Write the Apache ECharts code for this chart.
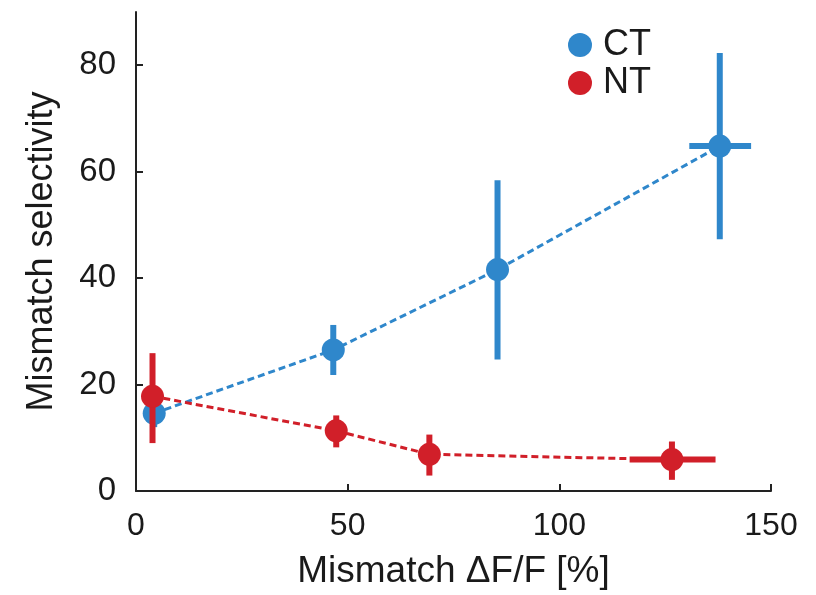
<!DOCTYPE html>
<html>
<head>
<meta charset="utf-8">
<script src="https://cdn.jsdelivr.net/npm/echarts@6/dist/echarts.min.js"></script>
<style>
  html, body { margin: 0; padding: 0; background: #fff; }
  #chart-container { width: 816px; height: 595px; }
</style>
</head>
<body>
<div id="chart-container"></div>
<script>
// CT: mean and error bounds
const ctX = [4.3, 46.6, 85.4, 137.9];
const ctY = [14.6, 26.5, 41.6, 64.8];
const ctYLow = [12.0, 21.8, 24.7, 47.3];
const ctYHigh = [17.0, 31.2, 58.4, 82.3];
const ctXLow = [4.3, 46.6, 84.6, 130.7];
const ctXHigh = [4.3, 46.6, 86.2, 145.3];

// NT: mean and error bounds
const ntX = [3.9, 47.3, 69.3, 126.6];
const ntY = [17.8, 11.3, 6.9, 5.9];
const ntYLow = [9.0, 8.2, 2.9, 2.1];
const ntYHigh = [25.9, 14.2, 10.6, 9.3];
const ntXLow = [3.9, 47.3, 69.3, 116.6];
const ntXHigh = [3.9, 47.3, 69.3, 136.9];

const yTicks = [0, 20, 40, 60, 80];
const xTicks = [0, 50, 100, 150];

const blue = '#2f87cb';
const red = '#d11f29';
const font = '"Liberation Sans", Arial, sans-serif';

function points(xs, ys) {
    return xs.map((x, i) => [x, ys[i]]);
}

function errRows(xs, ys, yl, yh, xl, xh) {
    return xs.map((x, i) => [x, ys[i], yl[i], yh[i], xl[i], xh[i]]);
}

function errorSeries(rows, color, z) {
    return {
        type: 'custom',
        silent: true,
        data: rows,
        encode: { x: 0, y: 1 },
        z: z,
        renderItem: function (params, api) {
            const x = api.value(0), y = api.value(1);
            const top = api.coord([x, api.value(3)]);
            const bot = api.coord([x, api.value(2)]);
            const left = api.coord([api.value(4), y]);
            const right = api.coord([api.value(5), y]);
            const style = { stroke: color, lineWidth: 6, lineCap: 'butt' };
            const children = [{
                type: 'line',
                shape: { x1: top[0], y1: top[1], x2: bot[0], y2: bot[1] },
                style: style
            }];
            if (right[0] - left[0] > 0.5) {
                children.push({
                    type: 'line',
                    shape: { x1: left[0], y1: left[1], x2: right[0], y2: right[1] },
                    style: style
                });
            }
            return { type: 'group', children: children };
        }
    };
}

function lineSeries(name, data, color, z) {
    return {
        name: name,
        type: 'line',
        data: data,
        symbol: 'circle',
        symbolSize: 23,
        z: z,
        itemStyle: { color: color },
        lineStyle: { color: color, width: 3, type: [7, 4] }
    };
}

const option = {
    animation: false,
    grid: { left: 136, right: 45, top: 12, bottom: 104 },
    legend: {
        data: ['CT', 'NT'],
        orient: 'vertical',
        left: 563,
        top: 22,
        icon: 'circle',
        itemWidth: 24,
        itemHeight: 24,
        itemGap: 2,
        textStyle: { fontSize: 36, fontFamily: font, color: '#1a1a1a', lineHeight: 36, padding: [0, 0, 0, 6] }
    },
    xAxis: {
        type: 'value',
        min: 0,
        max: 150,
        interval: 50,
        name: 'Mismatch \u0394F/F [%]',
        nameLocation: 'middle',
        nameGap: 62,
        nameTextStyle: { fontSize: 37, fontFamily: font, color: '#1a1a1a' },
        axisLine: { show: true, lineStyle: { color: '#222', width: 2 } },
        axisTick: { show: true, inside: true, length: 7, lineStyle: { color: '#222', width: 2 }, customValues: xTicks },
        axisLabel: { fontSize: 32, fontFamily: font, color: '#1a1a1a', margin: 19, customValues: xTicks },
        splitLine: { show: false }
    },
    yAxis: {
        type: 'value',
        min: 0,
        max: 90,
        interval: 20,
        name: 'Mismatch selectivity',
        nameLocation: 'middle',
        nameGap: 76,
        nameTextStyle: { fontSize: 36, fontFamily: font, color: '#1a1a1a' },
        axisLine: { show: true, lineStyle: { color: '#222', width: 2 } },
        axisTick: { show: true, inside: true, length: 7, lineStyle: { color: '#222', width: 2 }, customValues: yTicks },
        axisLabel: { fontSize: 33, fontFamily: font, color: '#1a1a1a', margin: 20, customValues: yTicks },
        splitLine: { show: false }
    },
    series: [
        errorSeries(errRows(ctX, ctY, ctYLow, ctYHigh, ctXLow, ctXHigh), blue, 3),
        lineSeries('CT', points(ctX, ctY), blue, 4),
        errorSeries(errRows(ntX, ntY, ntYLow, ntYHigh, ntXLow, ntXHigh), red, 5),
        lineSeries('NT', points(ntX, ntY), red, 6)
    ]
};

const chart = echarts.init(document.getElementById('chart-container'));
chart.setOption(option);
</script>
</body>
</html>
